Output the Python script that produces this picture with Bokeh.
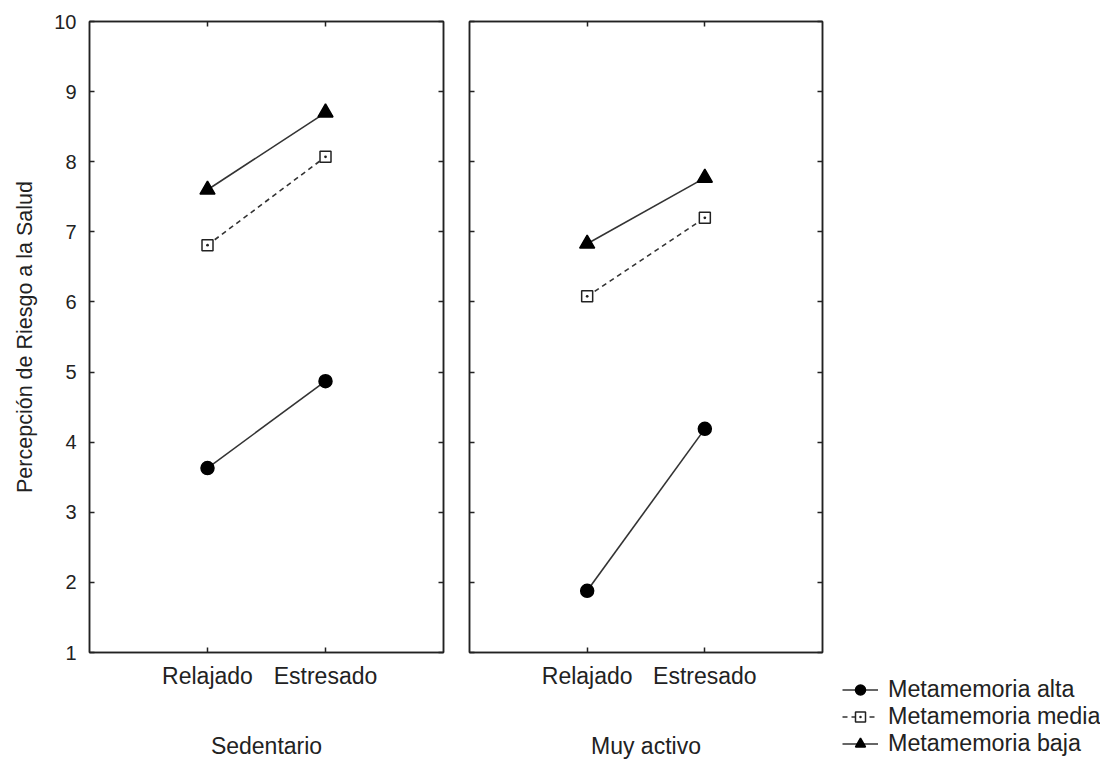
from bokeh.plotting import figure
from bokeh.models import (FactorRange, Range1d, FixedTicker, LinearAxis,
                          CategoricalAxis, Legend, LegendItem)
from bokeh.layouts import row, column
from bokeh.embed import file_html
from bokeh.resources import INLINE

conditions = ["Relajado", "Estresado"]
groups = ["Sedentario", "Muy activo"]
series = ["Metamemoria alta", "Metamemoria media", "Metamemoria baja"]

sed_alta = [3.63, 4.87]
sed_media = [6.81, 8.07]
sed_baja = [7.60, 8.70]
act_alta = [1.88, 4.19]
act_media = [6.08, 7.20]
act_baja = [6.83, 7.77]

y_ticks = list(range(1, 11))

FONT = "Liberation Sans"
INK = "#222222"
LINE = "#333333"
H = 761
TOP = 21
FRAME_H = 634

styles = [
    dict(marker="circle", size=13, fill_color="black", line_color="black", dash="solid", lw=1.6),
    dict(marker="square_dot", size=11, fill_color="white", line_color="#222222", dash="5 4", lw=1.6),
    dict(marker="triangle", size=15, fill_color="black", line_color="black", dash="solid", lw=1.6),
]


def style_axis(ax, labels):
    ax.major_tick_in = 5
    ax.major_tick_out = 0
    ax.minor_tick_in = 0
    ax.minor_tick_out = 0
    ax.axis_line_color = INK
    ax.axis_line_width = 1.5
    ax.major_tick_line_color = INK
    ax.major_tick_line_width = 1.5
    ax.major_label_text_font = FONT
    ax.major_label_text_color = INK
    if not labels:
        ax.major_label_text_font_size = "0px"
        ax.major_label_text_alpha = 0


def make_panel(data, group, left, width, border_left, border_right):
    p = figure(width=width, height=H, output_backend="svg", toolbar_location=None,
               x_range=FactorRange(*conditions, range_padding=0.5, range_padding_units="absolute"),
               y_range=Range1d(1, 10),
               x_axis_location=None, y_axis_location=None,
               min_border_left=border_left, min_border_right=border_right,
               min_border_top=TOP, min_border_bottom=H - TOP - FRAME_H)
    p.grid.visible = False
    p.outline_line_color = INK
    p.outline_line_width = 1.5
    p.background_fill_color = "white"
    p.border_fill_color = "white"

    bottom = CategoricalAxis(axis_label=group)
    style_axis(bottom, True)
    bottom.major_label_text_font_size = "23px"
    bottom.major_label_standoff = 10
    bottom.axis_label_text_font = FONT
    bottom.axis_label_text_font_size = "23px"
    bottom.axis_label_text_font_style = "normal"
    bottom.axis_label_text_color = INK
    bottom.axis_label_standoff = 41
    p.add_layout(bottom, "below")

    top = CategoricalAxis()
    style_axis(top, False)
    p.add_layout(top, "above")

    yl = LinearAxis(ticker=FixedTicker(ticks=y_ticks))
    style_axis(yl, left)
    if left:
        yl.major_label_text_font_size = "20px"
        yl.major_label_standoff = 13
        yl.axis_label = "Percepción de Riesgo a la Salud"
        yl.axis_label_text_font = FONT
        yl.axis_label_text_font_size = "21.5px"
        yl.axis_label_text_font_style = "normal"
        yl.axis_label_text_color = INK
        yl.axis_label_standoff = 14
    p.add_layout(yl, "left")

    yr = LinearAxis(ticker=FixedTicker(ticks=y_ticks))
    style_axis(yr, False)
    p.add_layout(yr, "right")

    for vals, st in zip(data, styles):
        p.line(conditions, vals, line_color=LINE, line_width=st["lw"], line_dash=st["dash"])
        p.scatter(conditions, vals, marker=st["marker"], size=st["size"],
                  fill_color=st["fill_color"], line_color=st["line_color"], line_width=1.5)
    return p


p1 = make_panel([sed_alta, sed_media, sed_baja], groups[0], True, 89 + 354 + 13, 89, 13)
p2 = make_panel([act_alta, act_media, act_baja], groups[1], False, 13 + 353 + 10, 13, 10)

# legend panel (series drawn off-range so only the legend shows)
p3 = figure(width=268, height=H, output_backend="svg", toolbar_location=None,
            x_range=FactorRange(*conditions), y_range=Range1d(20, 30),
            x_axis_location=None, y_axis_location=None,
            min_border=0, outline_line_color=None)
p3.grid.visible = False
p3.background_fill_color = "white"
p3.border_fill_color = "white"
items = []
for name, vals, st in zip(series, [sed_alta, sed_media, sed_baja], styles):
    ln = p3.line(conditions, vals, line_color=LINE, line_width=st["lw"], line_dash=st["dash"])
    sc = p3.scatter(conditions, vals, marker=st["marker"], size=st["size"] - 1,
                    fill_color=st["fill_color"], line_color=st["line_color"], line_width=1.5)
    items.append(LegendItem(label=name, renderers=[ln, sc]))

legend = Legend(items=items, location=(10, 4), orientation="vertical",
                label_text_font=FONT, label_text_font_size="23.3px",
                label_text_color=INK, glyph_width=36, glyph_height=25,
                label_height=25, label_standoff=10, spacing=0, padding=0,
                margin=0, border_line_color=None, background_fill_alpha=0)
p3.add_layout(legend)

layout = row(p1, p2, column(p3))
open("out.html", "w").write(file_html(layout, INLINE))
